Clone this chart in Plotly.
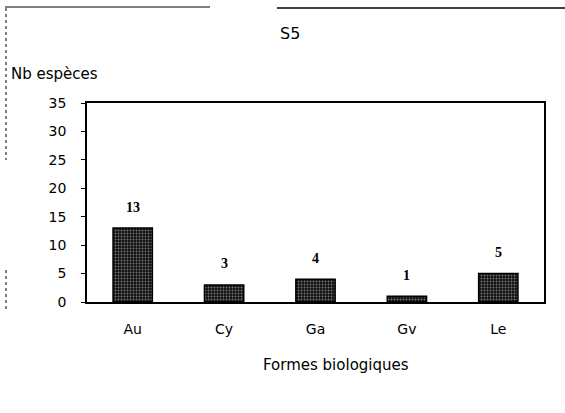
import plotly.graph_objects as go

categories = ["Au", "Cy", "Ga", "Gv", "Le"]
values = [13, 3, 4, 1, 5]
y_ticks = [0, 5, 10, 15, 20, 25, 30, 35]

W, H = 565, 413
L, R, T, B = 87, 21, 103, 111
SANS = "DejaVu Sans"

fig = go.Figure()
fig.add_trace(go.Bar(
    x=categories, y=values, width=0.43,
    marker=dict(color="#111111", line=dict(color="black", width=1.5),
                pattern=dict(shape=".", fgcolor="#dddddd", bgcolor="#111111",
                             size=3, solidity=0.3)),
    showlegend=False,
))

for c, v in zip(categories, values):
    fig.add_annotation(x=c, y=v, text="<b>%d</b>" % v, showarrow=False, yshift=21,
                       font=dict(family="Liberation Serif", size=14, color="black"))

fig.update_layout(
    width=W, height=H,
    margin=dict(l=L, r=R, t=T, b=B),
    paper_bgcolor="white", plot_bgcolor="white",
    font=dict(family=SANS, color="black", size=13),
    bargap=0.57,
)
fig.update_yaxes(range=[0, 35], tickvals=y_ticks, showgrid=False, zeroline=False,
                 showline=True, linecolor="black", linewidth=1.5, mirror=True,
                 ticks="outside", ticklen=4, tickcolor="black",
                 ticklabelstandoff=12, tickfont=dict(family=SANS, size=14))
fig.update_xaxes(showgrid=False, showline=True, linecolor="black", linewidth=1.5,
                 mirror=True, ticks="", ticklabelstandoff=13,
                 tickfont=dict(family=SANS, size=14))

def px(xp):
    return (xp - L) / (W - L - R)

def py(yp):
    return 1 - (yp - T) / (H - T - B)

# title and axis titles
fig.add_annotation(xref="paper", yref="paper", x=px(290), y=py(34), text="S5",
                   showarrow=False, font=dict(family=SANS, size=16),
                   xanchor="center", yanchor="middle")
fig.add_annotation(xref="paper", yref="paper", x=px(9), y=py(74), text="Nb espèces",
                   showarrow=False, font=dict(family=SANS, size=15),
                   xanchor="left", yanchor="middle")
fig.add_annotation(xref="paper", yref="paper", x=px(336), y=py(365),
                   text="Formes biologiques", showarrow=False,
                   font=dict(family=SANS, size=15), xanchor="center",
                   yanchor="middle")

# outer frame fragments
fig.add_shape(type="line", xref="paper", yref="paper", x0=px(5), x1=px(210),
              y0=py(7), y1=py(7), line=dict(color="black", width=1))
fig.add_shape(type="line", xref="paper", yref="paper", x0=px(277), x1=px(565),
              y0=py(8), y1=py(8), line=dict(color="black", width=1.5))
fig.add_shape(type="line", xref="paper", yref="paper", x0=px(6), x1=px(6),
              y0=py(8), y1=py(160), line=dict(color="black", width=1, dash="dot"))
fig.add_shape(type="line", xref="paper", yref="paper", x0=px(6), x1=px(6),
              y0=py(270), y1=py(310), line=dict(color="black", width=1, dash="dot"))

fig.write_html("out.html", config={"displayModeBar": False},
               post_script="document.body.style.margin='0';")
